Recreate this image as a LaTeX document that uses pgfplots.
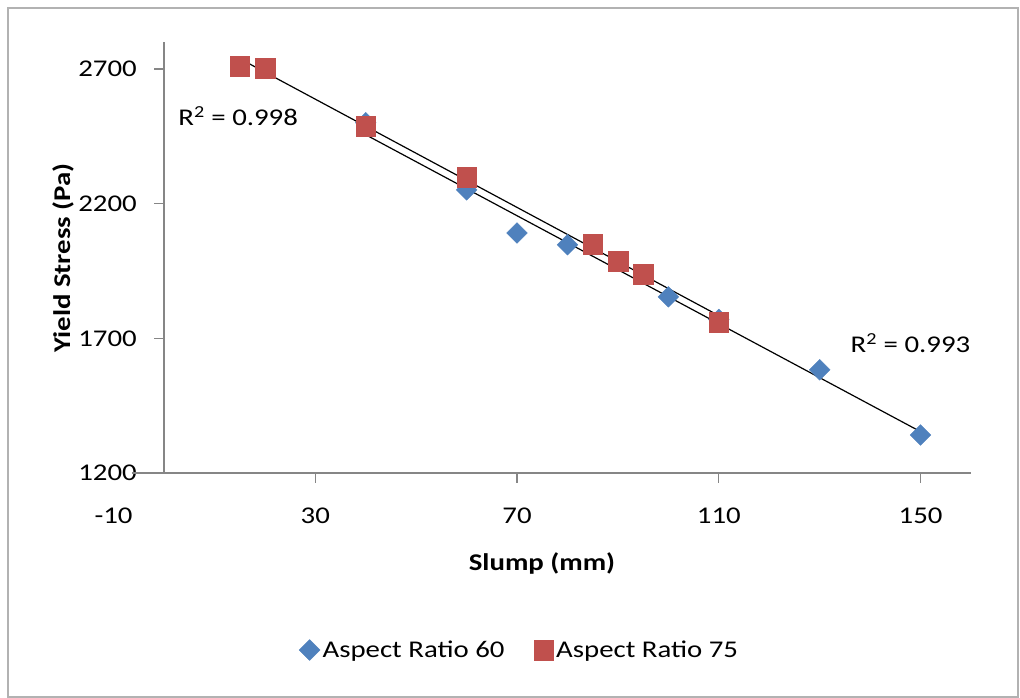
\documentclass[border=0pt]{standalone}
\usepackage{fontspec}
\setmainfont{Carlito}[FakeStretch=1.2]
\usepackage{pgfplots}
\usepackage{pgfplotstable}
\pgfplotsset{compat=1.18}
\definecolor{blueA}{HTML}{4F81BD}
\definecolor{redA}{HTML}{C0504D}
\definecolor{axgray}{HTML}{868686}

\pgfplotstableread{
x y
40 2500
60 2251
70 2091
80 2047
100 1854
110 1770
130 1583
150 1341
}\tabA
\pgfplotstableread{
x y
15 2711
20 2704
40 2488
60 2299
85 2050
90 1987
95 1939
110 1761
}\tabB

\begin{document}
\begin{tikzpicture}[x=0.75pt,y=0.75pt]
\path (0,0) rectangle (1020,698);
\draw[color=gray!60, line width=1pt] (8,1) rectangle (1018,690);
\begin{axis}[
  at={(123pt,168.75pt)}, anchor=south west,
  scale only axis, width=605.25pt, height=323.25pt,
  xmin=0, xmax=160, ymin=1200, ymax=2800,
  clip=false,
  axis x line*=bottom, axis y line*=left,
  axis line style={axgray, line width=1pt, -},
  xtick={30,70,110,150}, ytick={1200,1700,2200,2700},
  tick align=outside, major tick length=7.5pt,
  tick style={axgray, line width=1pt},
  tick label style={font=\fontsize{18}{20}\selectfont, inner sep=0pt, text=black},
  /pgf/number format/assume math mode=true,
  /pgf/number format/set thousands separator={},
  yticklabel style={anchor=east, xshift=-12.75pt},
  xticklabel style={anchor=north, yshift=-18.5pt},
  xlabel={\textbf{Slump (mm)}},
  ylabel={\textbf{Yield Stress (Pa)}},
  label style={font=\fontsize{18}{20}\selectfont},
  xlabel style={at={(axis description cs:0.4684,-0.2088)}, anchor=center},
  ylabel style={at={(axis description cs:-0.1252,0.4988)}, anchor=center},
  legend style={at={(axis description cs:0.4411,-0.4107)}, anchor=center, draw=none,
    font=\fontsize{18}{20}\selectfont,
    /tikz/every even column/.append style={column sep=20pt}},
  legend columns=2,
]
\draw[axgray, line width=1pt] (axis cs:-6.4,1200) -- (axis cs:0,1200);
\addplot[only marks, mark=square*, mark size=5.5pt, mark options={rotate=45, fill=blueA, draw=blueA, line width=0.3pt}] table[x=x,y=y] {\tabA};
\addlegendentry{Aspect Ratio 60}
\addplot[only marks, mark=square*, mark size=7.4pt, mark options={fill=redA, draw=redA, line width=0.3pt}] table[x=x,y=y] {\tabB};
\addlegendentry{Aspect Ratio 75}
\addplot[black, line width=0.9pt, no marks, forget plot] table[x=x, y={create col/linear regression={y=y}}] {\tabA};
\addplot[black, line width=0.9pt, no marks, forget plot] table[x=x, y={create col/linear regression={y=y}}] {\tabB};
\node[font=\fontsize{18}{20}\selectfont] at (axis cs:14.7,2525) {R\textsuperscript{2} = 0.998};
\node[font=\fontsize{18}{20}\selectfont] at (axis cs:148,1683) {R\textsuperscript{2} = 0.993};
\node[anchor=north, inner sep=0pt, font=\fontsize{18}{20}\selectfont, yshift=-26pt] at (axis cs:-10,1200) {-10};
\end{axis}
\end{tikzpicture}
\end{document}
